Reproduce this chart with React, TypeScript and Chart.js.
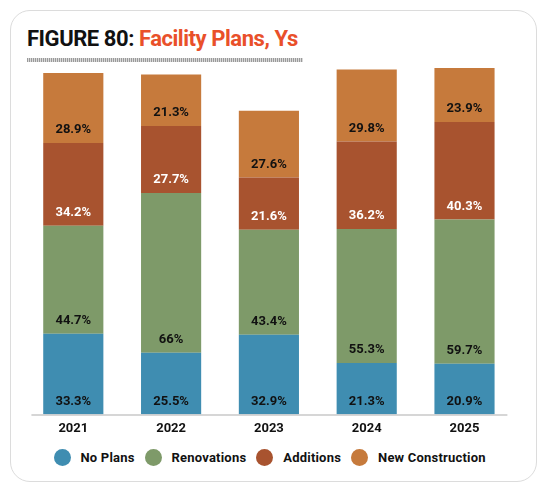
import React, { useEffect, useRef } from "react";
import { Chart, registerables } from "chart.js";

Chart.register(...registerables);

const years = ["2021", "2022", "2023", "2024", "2025"];
const noPlans = [33.3, 25.5, 32.9, 21.3, 20.9];
const renovations = [44.7, 66, 43.4, 55.3, 59.7];
const additions = [34.2, 27.7, 21.6, 36.2, 40.3];
const newConstruction = [28.9, 21.3, 27.6, 29.8, 23.9];
const seriesNames = ["No Plans", "Renovations", "Additions", "New Construction"];
const seriesColors = ["#3f8db1", "#7e9a69", "#a8532f", "#c67a3c"];
const labelColors = ["#111111", "#111111", "#ffffff", "#111111"];
const yMax = 143.2;

const FONT = "Roboto, 'Liberation Sans', Arial, sans-serif";

const segLabels = {
  id: "segLabels",
  afterDatasetsDraw(chart: any) {
    const ctx = chart.ctx;
    ctx.save();
    ctx.font = `bold 13px ${FONT}`;
    ctx.textAlign = "center";
    ctx.textBaseline = "middle";
    chart.data.datasets.forEach((ds: any, i: number) => {
      const meta = chart.getDatasetMeta(i);
      meta.data.forEach((bar: any, j: number) => {
        const p = bar.getProps(["x", "base"], true);
        ctx.fillStyle = labelColors[i];
        ctx.fillText(`${ds.data[j]}%`, p.x, p.base - 13);
      });
    });
    ctx.restore();
  },
};

const baseLine = {
  id: "baseLine",
  afterDatasetsDraw(chart: any) {
    const { ctx, chartArea } = chart;
    ctx.save();
    ctx.strokeStyle = "#c9c9c9";
    ctx.lineWidth = 1.5;
    ctx.beginPath();
    ctx.moveTo(chartArea.left + 7, chartArea.bottom + 0.5);
    ctx.lineTo(chartArea.right - 6, chartArea.bottom + 0.5);
    ctx.stroke();
    ctx.restore();
  },
};

export default function App() {
  const ref = useRef<HTMLCanvasElement | null>(null);

  useEffect(() => {
    if (!ref.current) return;
    const series = [noPlans, renovations, additions, newConstruction];
    const chart = new Chart(ref.current, {
      type: "bar",
      data: {
        labels: years,
        datasets: series.map((d, i) => ({
          label: seriesNames[i],
          data: d,
          backgroundColor: seriesColors[i],
          borderWidth: 0,
          categoryPercentage: 1,
          barPercentage: 0.615,
        })),
      },
      options: {
        animation: false,
        responsive: false,
        maintainAspectRatio: false,
        layout: { padding: { left: 24.4, right: 34.6, top: 68, bottom: 5 } },
        plugins: { legend: { display: false }, tooltip: { enabled: false } },
        scales: {
          x: {
            stacked: true,
            grid: { display: false, drawTicks: false },
            border: { display: false },
            ticks: {
              padding: 7,
              color: "#111111",
              font: { family: FONT, size: 13, weight: "bold" },
            },
          },
          y: {
            stacked: true,
            display: false,
            min: 0,
            max: yMax,
          },
        },
      },
      plugins: [segLabels, baseLine],
    });
    return () => chart.destroy();
  }, []);

  return (
    <div style={{ position: "absolute", left: 0, top: 0, width: 548, height: 492, background: "#fff", overflow: "hidden" }}>
      <div
        style={{
          position: "absolute",
          left: 10,
          top: 10,
          width: 525,
          height: 470,
          border: "1.5px solid #dcdcdc",
          borderRadius: 20,
          boxSizing: "content-box",
        }}
      />
      <div
        style={{
          position: "absolute",
          left: 27,
          top: 28,
          fontFamily: FONT,
          fontWeight: 700,
          fontSize: 22,
          lineHeight: "22px",
          letterSpacing: "-0.45px",
          whiteSpace: "nowrap",
          color: "#111",
        }}
      >
        FIGURE 80: <span style={{ color: "#e9502a" }}>Facility Plans, Ys</span>
      </div>
      <div
        style={{
          position: "absolute",
          left: 27,
          top: 58,
          width: 276,
          height: 4,
          background: "repeating-linear-gradient(90deg, #9a9a9a 0px, #9a9a9a 1px, #dadada 1px, #dadada 2px)",
        }}
      />
      <canvas ref={ref} width={548} height={449} style={{ position: "absolute", left: 0, top: 0, width: 548, height: 449 }} />
      <div
        style={{
          position: "absolute",
          left: 53.5,
          top: 448.5,
          height: 18,
          display: "flex",
          alignItems: "center",
          fontFamily: FONT,
          fontWeight: 700,
          fontSize: 13,
          letterSpacing: "0.2px",
          color: "#111",
          whiteSpace: "nowrap",
        }}
      >
        {seriesNames.map((n, i) => (
          <div key={n} style={{ display: "flex", alignItems: "center", marginRight: 10 }}>
            <span
              style={{
                display: "inline-block",
                width: 17,
                height: 17,
                borderRadius: "50%",
                background: seriesColors[i],
                marginRight: 10,
              }}
            />
            <span>{n}</span>
          </div>
        ))}
      </div>
    </div>
  );
}
